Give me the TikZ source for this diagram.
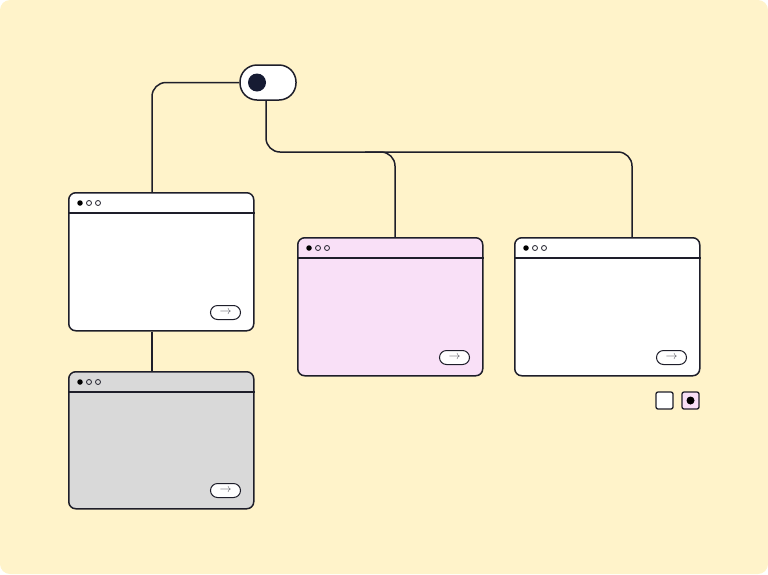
\documentclass[tikz,border=0pt]{standalone}
\usepackage{fontspec}
\setmainfont{DejaVu Sans}
\usetikzlibrary{calc}
\definecolor{bg}{HTML}{FFF3CA}
\definecolor{ink}{HTML}{1E1E2A}
\definecolor{navy}{HTML}{161B33}
\definecolor{pinkf}{HTML}{F9E0F7}
\definecolor{grayf}{HTML}{D9D9D9}
\definecolor{arrowc}{HTML}{55555F}
\tikzset{
  win/.style={draw=ink, line width=1.5pt, rounded corners=7pt},
  conn/.style={draw=ink, line width=1.5pt, rounded corners=14pt},
  hdr/.style={draw=ink, line width=1.5pt},
  dotf/.style={fill=black, circle, inner sep=0pt, minimum size=5.5pt},
  doto/.style={draw=ink, line width=0.8pt, circle, inner sep=0pt, minimum size=5pt},
  btn/.style={draw=ink, line width=1pt, rounded corners=7pt, minimum width=30pt, minimum height=14pt, inner sep=0pt, fill=white, text=arrowc},
  sq/.style={draw=ink, line width=1.3pt, rounded corners=2pt, minimum size=17pt, inner sep=0pt},
}
\newcommand{\wnd}[6]{%
  \node[win, fill=#5, minimum width=#3pt, minimum height=#4pt, inner sep=0pt, anchor=north west] (#6) at (#1,#2) {};
  \draw[hdr] ($(#6.north west)+(0,21)$) -- ($(#6.north east)+(0,21)$);
  \node[dotf] (#6d1) at ($(#6.north west)+(12,11)$) {};
  \node[doto] (#6d2) at ($(#6.north west)+(21,11)$) {};
  \node[doto] (#6d3) at ($(#6.north west)+(30,11)$) {};
  \node[btn] (#6b) at ($(#6.south east)+(-29,-19)$) {\fontsize{12}{12}\selectfont$\rightarrow$};
}
\begin{document}
\begin{tikzpicture}[x=1pt,y=-1pt]
\useasboundingbox (0,0) rectangle (768,574);
\fill[bg, rounded corners=10pt] (0,0) rectangle (768,574);
% toggle
\node[draw=ink, line width=1.5pt, fill=white, rounded corners=17pt, minimum width=56pt, minimum height=35pt, inner sep=0pt] (tog) at (268,82.5) {};
\node[fill=navy, circle, minimum size=18pt, inner sep=0pt] (knob) at (257,82.5) {};
% windows
\wnd{68}{192}{185}{138}{white}{w1}
\wnd{68}{371}{185}{137}{grayf}{w4}
\wnd{297}{237}{185}{138}{pinkf}{w2}
\wnd{514}{237}{185}{138}{white}{w3}
% connector anchors
\coordinate (w1top) at ($(w1.north west)+(84,0)$);
\coordinate (w1bot) at ($(w1.south west)+(84,0)$);
\coordinate (w4top) at ($(w4.north west)+(84,0)$);
\coordinate (w2top) at ($(w2.north west)+(98,0)$);
\coordinate (w3top) at ($(w3.north west)+(118,0)$);
\coordinate (bus) at ($(w3top)+(0,-85)$);
\coordinate (tap) at ($(w2top)+(-30,-85)$);
% connectors
\draw[conn] (tog.west) -| (w1top);
\draw[conn] ($(tog.south)+(-2,0)$) |- (bus) -- (w3top);
\draw[conn] (tap) -| (w2top);
\draw[hdr] (w1bot) -- (w4top);
% small squares
\node[sq, fill=white] (s1) at (664.5,400.5) {};
\node[sq, fill=pinkf] (s2) at (690.5,400.5) {};
\node[fill=black, circle, minimum size=8pt, inner sep=0pt] (s2d) at (s2) {};
\end{tikzpicture}
\end{document}
